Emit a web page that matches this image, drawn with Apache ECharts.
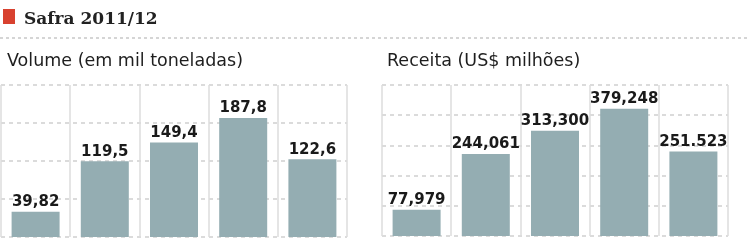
<!DOCTYPE html>
<html><head><meta charset="utf-8">
<script src="https://cdn.jsdelivr.net/npm/echarts@6/dist/echarts.min.js"></script>
<style>html,body{margin:0;padding:0;background:#fff}#c{width:750px;height:250px}</style>
</head><body><div id="c"></div>
<script>
const categories = ['1', '2', '3', '4', '5'];
const volumeValues = [39.82, 119.5, 149.4, 187.8, 122.6];
const volumeLabels = ['39,82', '119,5', '149,4', '187,8', '122,6'];
const receitaValues = [77.979, 244.061, 313.3, 379.248, 251.523];
const receitaLabels = ['77,979', '244,061', '313,300', '379,248', '251.523'];

const chart = echarts.init(document.getElementById('c'));
const barColor = '#94adb2';
const labelFont = {show: true, position: 'top', distance: 2, color: '#1a1a1a', fontFamily: 'DejaVu Sans', fontWeight: 'bold', fontSize: 15};
function xAx(gi) {
  return {type: 'category', gridIndex: gi, data: categories, boundaryGap: true,
    axisLine: {show: false}, axisTick: {show: false}, axisLabel: {show: false},
    splitLine: {show: true, lineStyle: {color: '#dcdcdc', width: 1.5}}};
}
function yAx(gi, max, interval) {
  return {type: 'value', gridIndex: gi, min: 0, max: max, interval: interval,
    axisLine: {show: false}, axisTick: {show: false}, axisLabel: {show: false},
    splitLine: {show: true, lineStyle: {color: '#cfcfcf', type: [4, 4], width: 1.5}}};
}
chart.setOption({
  animation: false,
  title: [
    {text: 'Safra 2011/12', left: 19, top: 6, textStyle: {fontFamily: 'DejaVu Serif', fontWeight: 'bold', fontSize: 17, color: '#222'}},
    {text: 'Volume (em mil toneladas)', left: 2, top: 47, textStyle: {fontFamily: 'DejaVu Sans', fontWeight: 'normal', fontSize: 17.5, color: '#1e1e1e'}},
    {text: 'Receita (US$ milhões)', left: 382, top: 47, textStyle: {fontFamily: 'DejaVu Sans', fontWeight: 'normal', fontSize: 17.5, color: '#1e1e1e'}}
  ],
  graphic: [
    {type: 'rect', shape: {x: 3, y: 9, width: 12, height: 15}, style: {fill: '#d8412f'}},
    {type: 'line', shape: {x1: 0, y1: 38, x2: 750, y2: 38}, style: {stroke: '#c8c8c8', lineWidth: 1.5, lineDash: [3, 3]}}
  ],
  grid: [
    {left: 1, top: 85, width: 346, height: 152},
    {left: 382, top: 85, width: 346, height: 151}
  ],
  xAxis: [xAx(0), xAx(1)],
  yAxis: [yAx(0, 240, 60), yAx(1, 450, 90)],
  series: [
    {type: 'bar', xAxisIndex: 0, yAxisIndex: 0, data: volumeValues, barWidth: 48,
     itemStyle: {color: barColor},
     label: Object.assign({}, labelFont, {formatter: p => volumeLabels[p.dataIndex]})},
    {type: 'bar', xAxisIndex: 1, yAxisIndex: 1, data: receitaValues, barWidth: 48,
     itemStyle: {color: barColor},
     label: Object.assign({}, labelFont, {formatter: p => receitaLabels[p.dataIndex]})}
  ]
});
</script></body></html>
